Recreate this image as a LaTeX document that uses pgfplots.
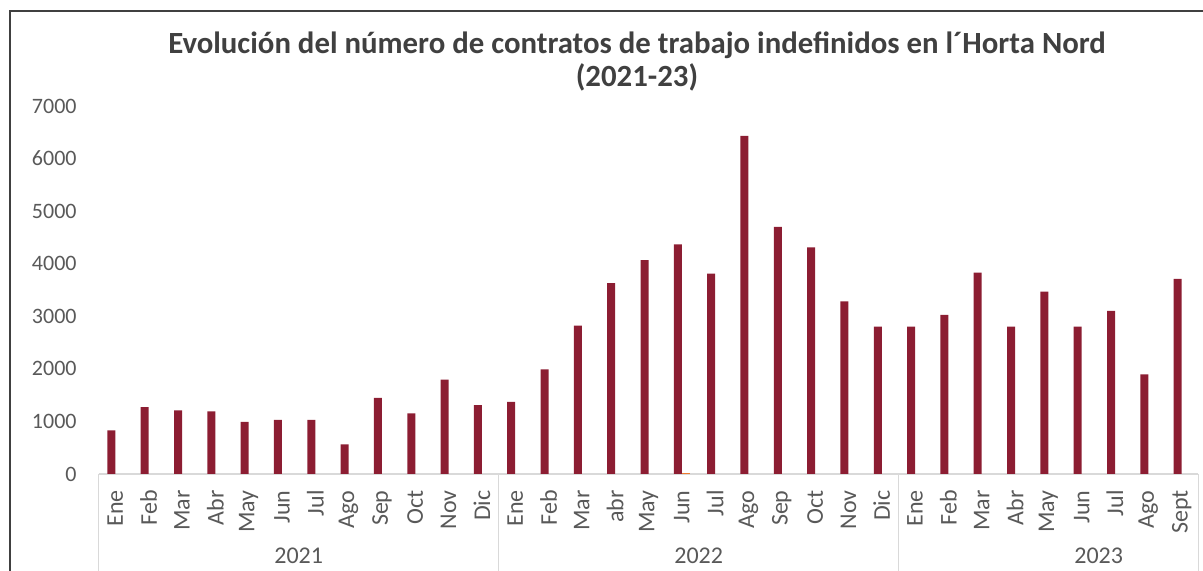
\documentclass[border=0pt]{standalone}
\usepackage{fontspec}
\setmainfont{Carlito}
\usepackage{pgfplots}
\usepackage{pgfplotstable}
\pgfplotsset{compat=1.18}
\definecolor{barred}{HTML}{8C1D32}
\definecolor{barorange}{HTML}{ED7D31}
\definecolor{txtgray}{HTML}{595959}
\definecolor{titlegray}{HTML}{404040}
\definecolor{linegray}{HTML}{D9D9D9}

% indefinite contracts per month, Jan 2021 - Sep 2023
\pgfplotstableread{
idx value
0  830
1  1270
2  1210
3  1190
4  990
5  1030
6  1030
7  565
8  1450
9  1155
10 1795
11 1310
12 1370
13 1990
14 2820
15 3630
16 4070
17 4370
18 3810
19 6430
20 4700
21 4310
22 3285
23 2805
24 2805
25 3025
26 3830
27 2805
28 3470
29 2805
30 3105
31 1895
32 3710
}\contratos

\begin{document}
\begin{tikzpicture}
\begin{axis}[
  at={(0,0)}, anchor=south west,
  scale only axis, width=549.8pt, height=184pt,
  xmin=-0.5, xmax=32.5, ymin=0, ymax=7000,
  ybar=0pt, bar width=4pt,
  axis x line*=bottom, axis y line*=left,
  x axis line style={draw=linegray, line width=0.6pt},
  y axis line style={draw=none},
  major tick length=0pt,
  xtick={0,...,32},
  xticklabels={Ene,Feb,Mar,Abr,May,Jun,Jul,Ago,Sep,Oct,Nov,Dic,
               Ene,Feb,Mar,abr,May,Jun,Jul,Ago,Sep,Oct,Nov,Dic,
               Ene,Feb,Mar,Abr,May,Jun,Jul,Ago,Sept},
  xticklabel style={rotate=90, anchor=east, inner sep=0pt, font=\fontsize{12}{14}\selectfont, text=txtgray},
  xticklabel shift=8pt,
  ytick={0,1000,...,7000},
  yticklabel style={anchor=east, inner sep=0pt, xshift=-10.85pt, font=\fontsize{11}{13}\selectfont, text=txtgray},
  /pgf/number format/assume math mode=true,
  scaled y ticks=false,
  yticklabel={\pgfmathprintnumber[fixed,1000 sep={}]{\tick}},
  clip=false,
]
\addplot[fill=barred, draw=none] table[x=idx, y=value] {\contratos};
\addplot[fill=barorange, draw=none] coordinates {(17,20)};
\end{axis}
% category group separators
\foreach \gx in {0pt,199.93pt,399.85pt,549.8pt}
  \draw[linegray, line width=0.6pt] (\gx,0pt) -- (\gx,-60pt);
\begin{scope}[every node/.style={text=txtgray, font=\fontsize{12}{14}\selectfont, inner sep=0pt}]
\node[anchor=north] at (100pt,-37pt) {2021};
\node[anchor=north] at (300pt,-37pt) {2022};
\node[anchor=north] at (500pt,-37pt) {2023};
\end{scope}
\node[anchor=base, text=titlegray, font=\bfseries\fontsize{15.4}{18}\selectfont] at (269.15pt,210.35pt)
  {Evolución del número de contratos de trabajo indefinidos en l´Horta Nord};
\node[anchor=base, text=titlegray, font=\bfseries\fontsize{15.4}{18}\selectfont] at (269.15pt,193.5pt)
  {(2021-23)};
\draw[titlegray, line width=0.7pt] (-44.35pt,-60pt) -- (-44.35pt,231.5pt) -- (560pt,231.5pt);
\pgfresetboundingbox
\path[use as bounding box] (-49.35pt,-48.5pt) rectangle (552.15pt,237pt);
\end{tikzpicture}
\end{document}
